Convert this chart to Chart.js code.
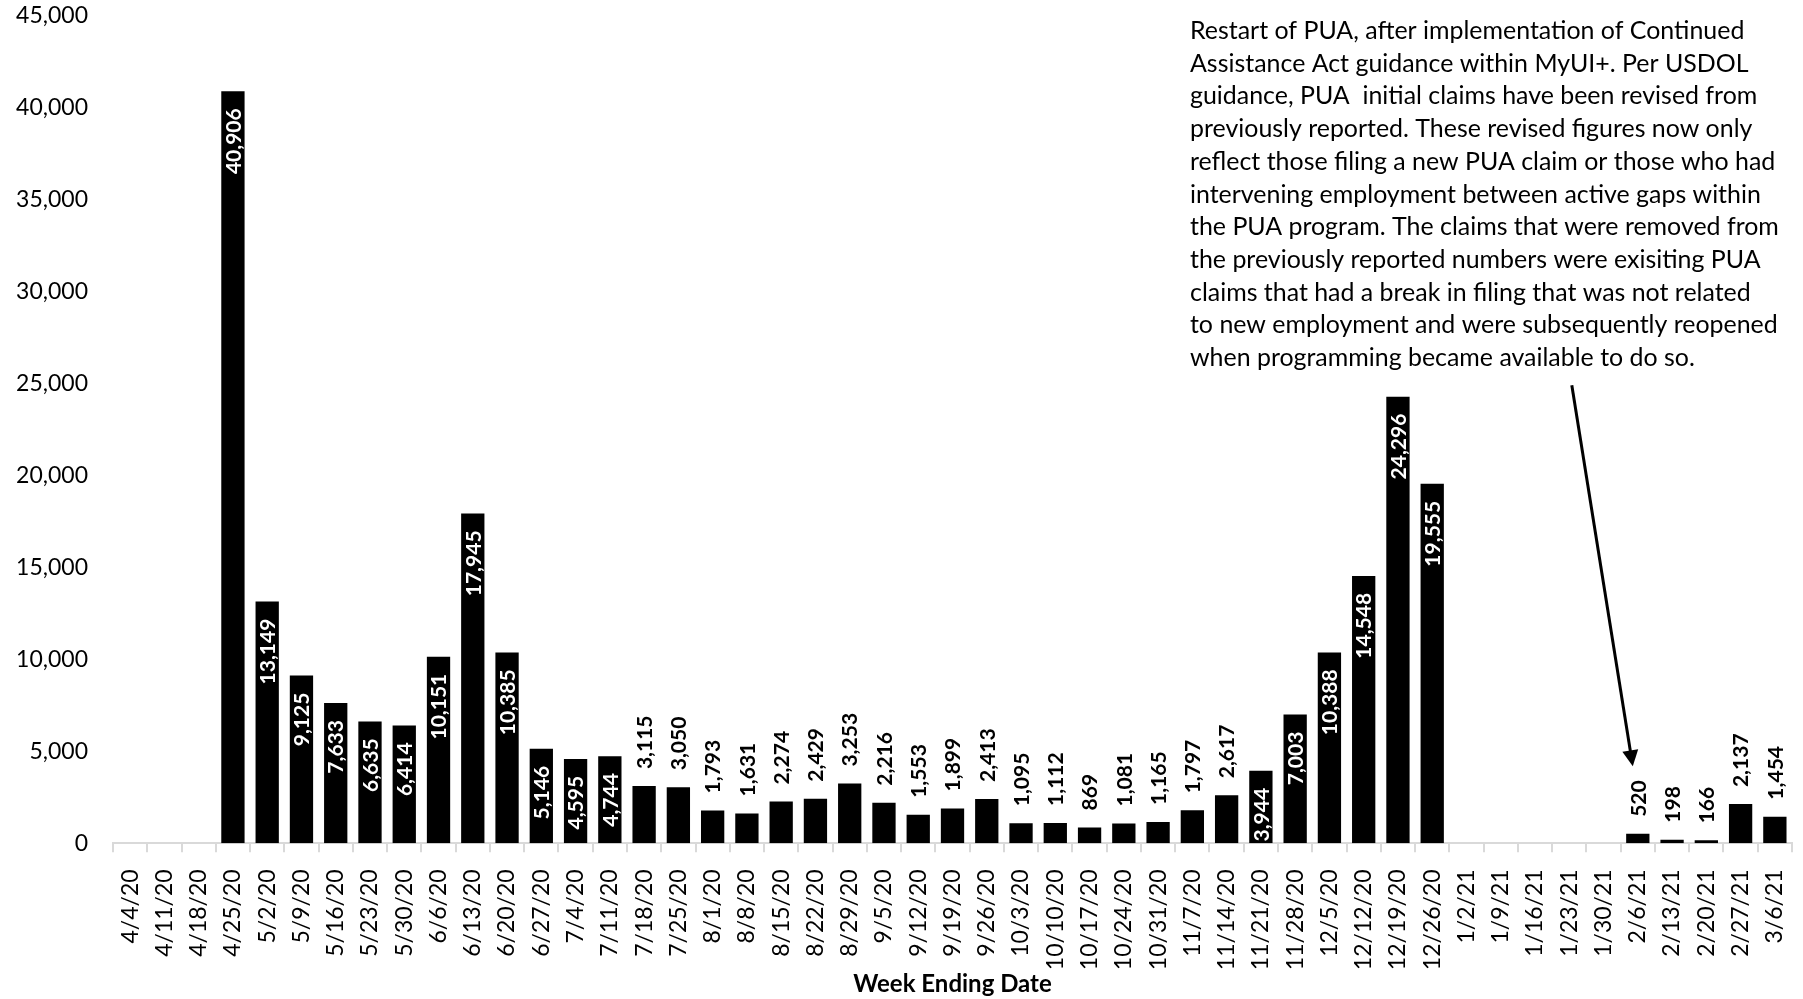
<!DOCTYPE html>
<html>
<head>
<meta charset="utf-8">
<script src="https://cdn.jsdelivr.net/npm/chart.js@4"></script>
<style>
    html, body { margin: 0; padding: 0; background: #fff; }
    #wrap { width: 1803px; height: 999px; }
</style>
</head>
<body>
<div id="wrap"><canvas id="barChart"></canvas></div>
<script>
// недели (дата окончания недели)
const weeks = ['4/4/20', '4/11/20', '4/18/20', '4/25/20', '5/2/20', '5/9/20', '5/16/20', '5/23/20', '5/30/20',
    '6/6/20', '6/13/20', '6/20/20', '6/27/20', '7/4/20', '7/11/20', '7/18/20', '7/25/20', '8/1/20', '8/8/20',
    '8/15/20', '8/22/20', '8/29/20', '9/5/20', '9/12/20', '9/19/20', '9/26/20', '10/3/20', '10/10/20',
    '10/17/20', '10/24/20', '10/31/20', '11/7/20', '11/14/20', '11/21/20', '11/28/20', '12/5/20', '12/12/20',
    '12/19/20', '12/26/20', '1/2/21', '1/9/21', '1/16/21', '1/23/21', '1/30/21', '2/6/21', '2/13/21',
    '2/20/21', '2/27/21', '3/6/21'];

// первичные заявки PUA
const claims = [null, null, null, 40906, 13149, 9125, 7633, 6635, 6414,
    10151, 17945, 10385, 5146, 4595, 4744, 3115, 3050, 1793, 1631,
    2274, 2429, 3253, 2216, 1553, 1899, 2413, 1095, 1112,
    869, 1081, 1165, 1797, 2617, 3944, 7003, 10388, 14548,
    24296, 19555, null, null, null, null, null, 520, 198,
    166, 2137, 1454];

const yTicks = [0, 5000, 10000, 15000, 20000, 25000, 30000, 35000, 40000, 45000];

const noteLines = [
    'Restart of PUA, after implementation of Continued',
    'Assistance Act guidance within MyUI+. Per USDOL',
    'guidance, PUA  initial claims have been revised from',
    'previously reported. These revised figures now only',
    'reflect those filing a new PUA claim or those who had',
    'intervening employment between active gaps within',
    'the PUA program. The claims that were removed from',
    'the previously reported numbers were exisiting PUA',
    'claims that had a break in filing that was not related',
    'to new employment and were subsequently reopened',
    'when programming became available to do so.'
];
const noteWeek = '2/6/21';

const FONT = 'Lato';
const fmt = v => v.toLocaleString('en-US');

// подписи значений на столбцах
const valueLabels = {
    id: 'valueLabels',
    afterDatasetsDraw(chart) {
        const ctx = chart.ctx;
        const meta = chart.getDatasetMeta(0);
        ctx.save();
        ctx.font = 'bold 21px ' + FONT;
        ctx.textBaseline = 'middle';
        meta.data.forEach((bar, i) => {
            const v = claims[i];
            if (v === null) return;
            ctx.save();
            if (v >= 3500) {
                ctx.translate(bar.x, bar.y + 17);
                ctx.rotate(-Math.PI / 2);
                ctx.textAlign = 'right';
                ctx.fillStyle = '#fff';
            } else {
                ctx.translate(bar.x, bar.y - 17);
                ctx.rotate(-Math.PI / 2);
                ctx.textAlign = 'left';
                ctx.fillStyle = '#000';
            }
            ctx.fillText(fmt(v), 0, 1);
            ctx.restore();
        });
        ctx.restore();
    }
};

// текст примечания и стрелка
const note = {
    id: 'note',
    afterDraw(chart) {
        const ctx = chart.ctx;
        ctx.save();
        ctx.fillStyle = '#000';
        ctx.font = '24px ' + FONT;
        let w = Math.max(...noteLines.map(l => ctx.measureText(l).width));
        const size = 24 * 589 / w;
        ctx.font = size.toFixed(2) + 'px ' + FONT;
        ctx.textBaseline = 'middle';
        ctx.textAlign = 'left';
        noteLines.forEach((line, k) => {
            ctx.fillText(line, 1190, 31 + k * 32.7);
        });

        const idx = weeks.indexOf(noteWeek);
        const bar = chart.getDatasetMeta(0).data[idx];
        ctx.font = 'bold 21px ' + FONT;
        const labelLen = ctx.measureText(fmt(claims[idx])).width;
        const tx = bar.x - 5, ty = bar.y - 17 - labelLen - 14;
        const sx = tx - 61, sy = ty - 381;
        const ang = Math.atan2(ty - sy, tx - sx);
        ctx.strokeStyle = '#000';
        ctx.lineWidth = 3;
        ctx.beginPath();
        ctx.moveTo(sx, sy);
        ctx.lineTo(tx - 12 * Math.cos(ang), ty - 12 * Math.sin(ang));
        ctx.stroke();
        ctx.beginPath();
        ctx.moveTo(tx, ty);
        ctx.lineTo(tx - 16 * Math.cos(ang) + 8 * Math.sin(ang), ty - 16 * Math.sin(ang) - 8 * Math.cos(ang));
        ctx.lineTo(tx - 16 * Math.cos(ang) - 8 * Math.sin(ang), ty - 16 * Math.sin(ang) + 8 * Math.cos(ang));
        ctx.closePath();
        ctx.fill();
        ctx.restore();
    }
};

const ctx = document.getElementById('barChart').getContext('2d');
const chart = new Chart(ctx, {
    type: 'bar',
    data: {
        labels: weeks,
        datasets: [{
            data: claims,
            backgroundColor: '#000000',
            barPercentage: 0.68,
            categoryPercentage: 1.0
        }]
    },
    options: {
        responsive: true,
        maintainAspectRatio: false,
        animation: false,
        layout: {padding: {top: 16, right: 11, left: 0, bottom: 0}},
        plugins: {
            legend: {display: false},
            tooltip: {enabled: false}
        },
        scales: {
            x: {
                offset: true,
                afterFit: s => {
                    s.height -= 17;
                    s.paddingTop = 0;
                    s.paddingLeft = 0;
                    s.paddingRight = 0;
                },
                grid: {
                    drawOnChartArea: false,
                    drawTicks: true,
                    tickLength: 9,
                    color: '#d9d9d9',
                    lineWidth: 2
                },
                border: {color: '#d9d9d9', width: 2},
                ticks: {
                    color: '#000',
                    font: {family: FONT, size: 23},
                    minRotation: 90,
                    maxRotation: 90,
                    autoSkip: false,
                    padding: 17
                },
                title: {
                    display: true,
                    text: 'Week Ending Date',
                    color: '#000',
                    font: {family: FONT, size: 24, weight: 'bold'},
                    padding: {top: 0, bottom: 0}
                }
            },
            y: {
                min: 0,
                max: 45000,
                afterBuildTicks: axis => { axis.ticks = yTicks.map(v => ({value: v})); },
                afterFit: s => {
                    s.width = 113;
                    s.paddingTop = 0;
                    s.paddingBottom = 0;
                },
                grid: {display: false},
                border: {display: false},
                ticks: {
                    color: '#000',
                    font: {family: FONT, size: 23},
                    padding: 17,
                    callback: v => fmt(v)
                }
            }
        }
    },
    plugins: [valueLabels, note]
});
</script>
</body>
</html>
